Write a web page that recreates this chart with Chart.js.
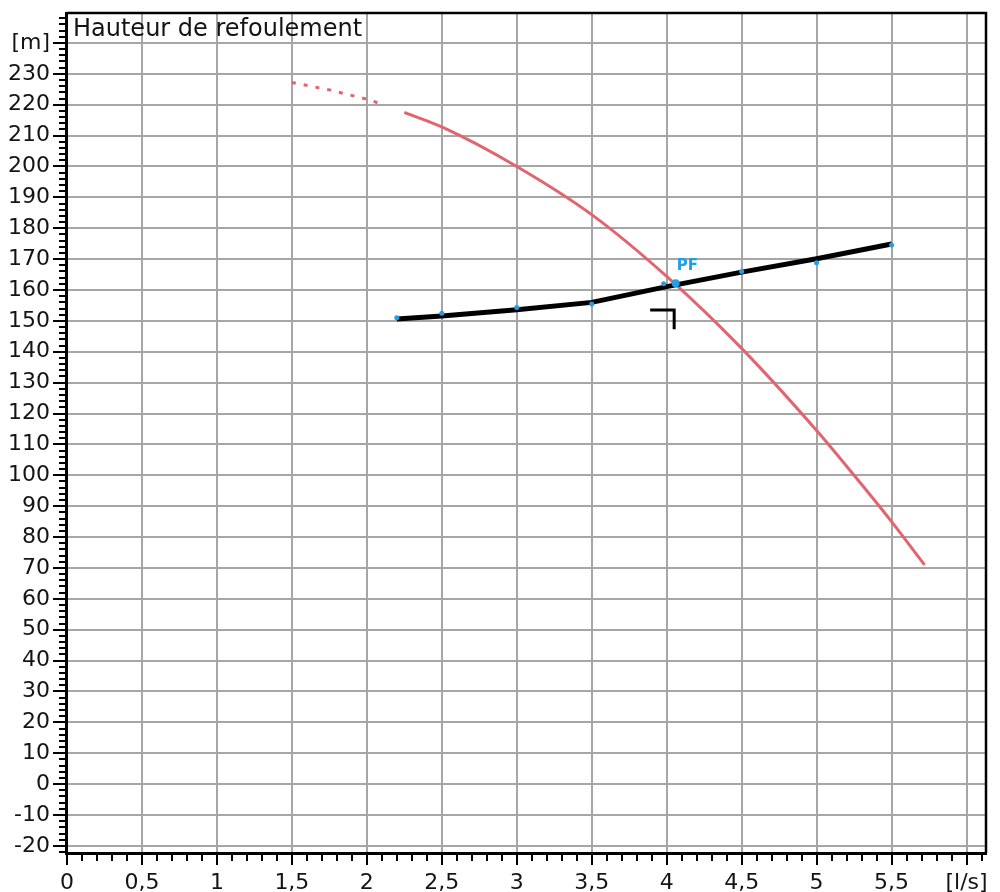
<!DOCTYPE html>
<html>
<head>
<meta charset="utf-8">
<title>Hauteur de refoulement</title>
<script src="https://cdn.jsdelivr.net/npm/chart.js@4.4.1/dist/chart.umd.min.js"></script>
<style>
  html, body { margin: 0; padding: 0; background: #ffffff; }
  #wrap { width: 1000px; height: 892px; }
</style>
</head>
<body>
<div id="wrap"><canvas id="chart" width="1000" height="892"></canvas></div>
<script>
// Pump curve (head vs flow), extrapolated part drawn dashed
const pumpFlowDashed = [1.5, 1.75, 2.0, 2.08];
const pumpHeadDashed = [227.2, 224.8, 221.8, 220.5];
const pumpFlow = [2.25, 2.5, 3.0, 3.5, 4.0, 4.5, 5.0, 5.25, 5.5, 5.72];
const pumpHead = [217.5, 212.8, 200.0, 184.4, 164.4, 141.1, 114.5, 100.0, 85.0, 71.0];

// System curve
const systemFlow = [2.2, 2.5, 3.0, 3.5, 4.0, 4.5, 5.0, 5.5];
const systemHead = [150.6, 151.6, 153.6, 156.0, 161.1, 165.8, 170.1, 174.9];

// Measured points along the system curve
const measuredFlow = [2.2, 2.5, 3.0, 3.5, 3.98, 4.5, 5.0, 5.5];
const measuredHead = [151.0, 152.5, 154.3, 155.5, 162.0, 166.0, 168.8, 174.6];

// Duty point
const dutyFlow = [4.06];
const dutyHead = [162.2];
const dutyLabel = 'PF';

// Tolerance corner below the duty point
const toleranceFlow = [3.89, 4.05, 4.05];
const toleranceHead = [153.5, 153.5, 147.3];

// Axes
const chartTitle = 'Hauteur de refoulement';
const xUnitLabel = '[l/s]';
const yUnitLabel = '[m]';
const xUnitTick = 6;
const yUnitTick = 240;
const xRange = [0, 6.13];
const yRange = [-22.3, 249.7];
const xMajorStep = 0.5, xMinorStep = 0.1;
const yMajorStep = 10, yMinorStep = 2;

const toPoints = (xs, ys) => xs.map((x, i) => ({ x: x, y: ys[i] }));
const fmtComma = v => String(Math.round(v * 100) / 100).replace('.', ',');

const BLUE = '#1f9fe6';
const RED = '#e2646f';
const GRID = '#a6a6a6';
const TEXT = '#141414';
const FONT = "'DejaVu Sans', 'Liberation Sans', sans-serif";

// Minor tick marks on the outer side of both axes
const minorTicks = {
  id: 'minorTicks',
  afterDraw(chart) {
    const { ctx, chartArea, scales } = chart;
    ctx.save();
    ctx.strokeStyle = '#000';
    ctx.lineWidth = 2;
    ctx.beginPath();
    const nx = Math.round((xRange[1] - xRange[0]) / xMinorStep);
    for (let i = 0; i <= nx; i++) {
      const v = xRange[0] + i * xMinorStep;
      if (v > xRange[1] + 1e-9) break;
      if (i % Math.round(xMajorStep / xMinorStep) === 0) continue;
      const px = Math.round(scales.x.getPixelForValue(v));
      ctx.moveTo(px, chartArea.bottom);
      ctx.lineTo(px, chartArea.bottom + 8);
    }
    const yStart = Math.ceil(yRange[0] / yMinorStep);
    const yEnd = Math.floor(yRange[1] / yMinorStep);
    for (let k = yStart; k <= yEnd; k++) {
      const v = k * yMinorStep;
      if (v % yMajorStep === 0) continue;
      const py = Math.round(scales.y.getPixelForValue(v));
      ctx.moveTo(chartArea.left - 8, py);
      ctx.lineTo(chartArea.left, py);
    }
    ctx.stroke();
    ctx.restore();
  }
};

// Closed frame around the plot area, title and duty point label
const frameAndText = {
  id: 'frameAndText',
  afterDatasetsDraw(chart) {
    const { ctx, chartArea } = chart;
    ctx.save();
    ctx.strokeStyle = '#000';
    ctx.lineWidth = 2.5;
    ctx.beginPath();
    ctx.moveTo(chartArea.left, chartArea.top);
    ctx.lineTo(chartArea.right, chartArea.top);
    ctx.lineTo(chartArea.right, chartArea.bottom);
    ctx.stroke();

    ctx.fillStyle = TEXT;
    ctx.font = "24px " + FONT;
    ctx.textAlign = 'left';
    ctx.textBaseline = 'alphabetic';
    ctx.fillText(chartTitle, chartArea.left + 6, chartArea.top + 23);

    const duty = chart.getDatasetMeta(0).data[0];
    if (duty) {
      ctx.fillStyle = BLUE;
      ctx.font = "bold 15px " + FONT;
      ctx.fillText(dutyLabel, duty.x + 1, duty.y - 13);
    }
    ctx.restore();
  }
};

new Chart(document.getElementById('chart'), {
  type: 'scatter',
  data: {
    datasets: [
      {
        label: 'PF',
        data: toPoints(dutyFlow, dutyHead),
        showLine: false,
        pointRadius: 4,
        pointBackgroundColor: BLUE,
        pointBorderWidth: 0
      },
      {
        label: 'Points',
        data: toPoints(measuredFlow, measuredHead),
        showLine: false,
        pointRadius: 2.5,
        pointBackgroundColor: BLUE,
        pointBorderWidth: 0
      },
      {
        label: 'Tolérance',
        data: toPoints(toleranceFlow, toleranceHead),
        showLine: true,
        borderColor: '#000',
        borderWidth: 3,
        pointRadius: 0,
        tension: 0
      },
      {
        label: 'Installation',
        data: toPoints(systemFlow, systemHead),
        showLine: true,
        borderColor: '#000',
        borderWidth: 5,
        pointRadius: 0,
        tension: 0
      },
      {
        label: 'Pompe',
        data: toPoints(pumpFlow, pumpHead),
        showLine: true,
        borderColor: RED,
        borderWidth: 3,
        pointRadius: 0,
        cubicInterpolationMode: 'monotone'
      },
      {
        label: 'Pompe (hors plage)',
        data: toPoints(pumpFlowDashed, pumpHeadDashed),
        showLine: true,
        borderColor: RED,
        borderWidth: 3,
        borderDash: [4, 8],
        pointRadius: 0,
        tension: 0
      }
    ]
  },
  options: {
    responsive: false,
    animation: false,
    devicePixelRatio: 1,
    layout: { padding: { left: 5, right: 14, top: 13, bottom: -9 } },
    plugins: {
      legend: { display: false },
      tooltip: { enabled: false },
      title: { display: false }
    },
    scales: {
      x: {
        type: 'linear',
        min: xRange[0],
        max: xRange[1],
        ticks: {
          stepSize: xMajorStep,
          includeBounds: false,
          autoSkip: false,
          maxRotation: 0,
          padding: 7,
          color: TEXT,
          font: { family: FONT, size: 22, lineHeight: 1 },
          callback: v => (Math.abs(v - xUnitTick) < 1e-6 ? xUnitLabel : fmtComma(v))
        },
        grid: {
          color: GRID,
          lineWidth: 2,
          tickColor: '#000',
          tickLength: 12,
          tickWidth: 2
        },
        border: { color: '#000', width: 3 }
      },
      y: {
        type: 'linear',
        min: yRange[0],
        max: yRange[1],
        ticks: {
          stepSize: yMajorStep,
          includeBounds: false,
          autoSkip: false,
          padding: 3,
          color: TEXT,
          font: { family: FONT, size: 22, lineHeight: 0.9 },
          callback: v => (Math.abs(v - yUnitTick) < 1e-6 ? yUnitLabel : String(Math.round(v)))
        },
        grid: {
          color: GRID,
          lineWidth: 2,
          tickColor: '#000',
          tickLength: 14,
          tickWidth: 2
        },
        border: { color: '#000', width: 3 }
      }
    }
  },
  plugins: [minorTicks, frameAndText]
});
</script>
</body>
</html>
